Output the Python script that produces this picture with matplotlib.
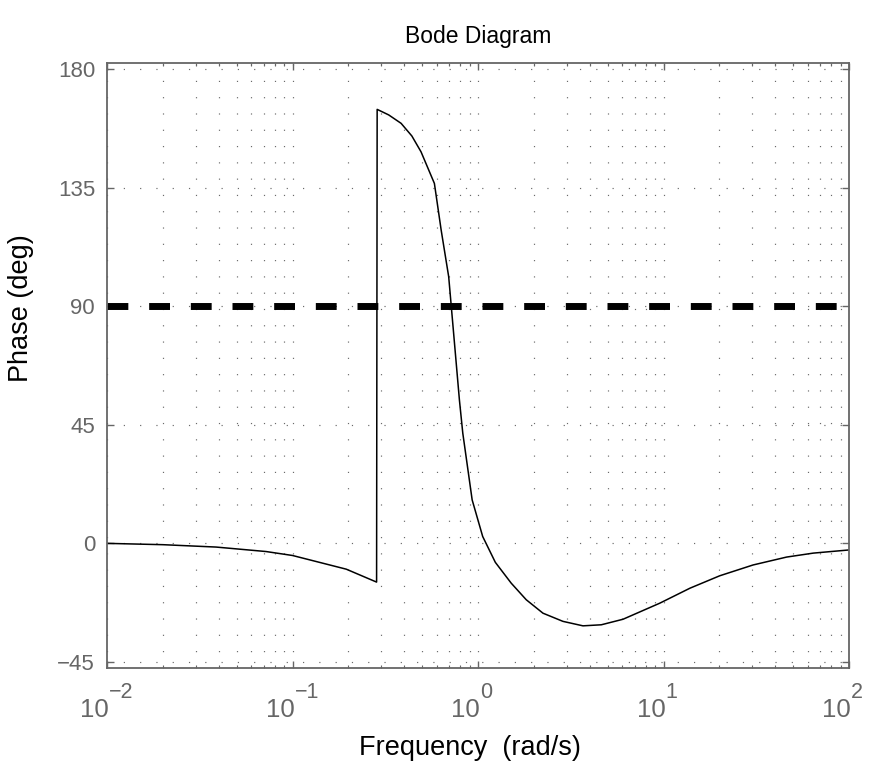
import matplotlib
matplotlib.use("Agg")
import matplotlib.pyplot as plt
from matplotlib.ticker import FixedLocator, NullFormatter, LogLocator

plt.rcParams['font.family'] = ['Liberation Sans', 'DejaVu Sans']

# ---- data ----
freq = [0.01, 0.02, 0.0387, 0.072, 0.1, 0.195, 0.284, 0.286, 0.33, 0.385, 0.44, 0.493, 0.582,
        0.633, 0.695, 0.731, 0.794, 0.828, 0.93, 1.06, 1.24, 1.51, 1.82, 2.24,
        2.87, 3.68, 4.62, 6.05, 9.55, 13.9, 20.1, 30.4, 46.1, 64.2, 100]
phase = [0.0, -0.5, -1.4, -3.1, -4.6, -9.8, -14.7, 164.7, 162.6, 159.4, 154.6, 148.6, 136.6,
         118.9, 101.2, 83.5, 54.4, 41.8, 16.5, 2.6, -7.2, -15.1, -21.4, -26.5,
         -29.6, -31.3, -30.9, -28.8, -22.7, -17.0, -12.3, -8.2, -5.2, -3.7, -2.5]
ref_freq = [0.01, 100]
ref_phase = [90, 90]

yticks = [-45, 0, 45, 90, 135, 180]
ytick_labels = ['\u221245', '0', '45', '90', '135', '180']
xtick_exponents = [-2, -1, 0, 1, 2]

title = 'Bode Diagram'
xlabel = 'Frequency  (rad/s)'
ylabel = 'Phase (deg)'

# ---- figure ----
fig = plt.figure(figsize=(8.71, 7.62), dpi=100)
ax = fig.add_axes([107 / 871, 94 / 762, 742 / 871, 605 / 762])
ax.set_xscale('log')
ax.set_xlim(0.01, 100)
ax.set_ylim(-47.3, 182.3)

ax.plot(freq, phase, color='black', lw=1.1)
ax.plot(ref_freq, ref_phase, color='black', lw=5, dashes=(3, 3), solid_capstyle='butt',
        dash_capstyle='butt')

grey = '#666666'
for s in ax.spines.values():
    s.set_color(grey)
    s.set_linewidth(1.3)

ax.set_yticks(yticks)
ax.set_yticklabels(ytick_labels)
ax.xaxis.set_major_locator(FixedLocator([10.0 ** e for e in xtick_exponents]))
ax.xaxis.set_minor_locator(LogLocator(base=10, subs=range(2, 10), numticks=20))
ax.xaxis.set_major_formatter(NullFormatter())
ax.xaxis.set_minor_formatter(NullFormatter())

ax.tick_params(axis='both', which='both', direction='in', top=True, right=True,
               color=grey, labelcolor=grey)
ax.tick_params(axis='both', which='major', length=5, width=1.0)
ax.tick_params(axis='both', which='minor', length=2.5, width=0.8)
ax.tick_params(axis='y', labelsize=16, pad=8.6)

grid_kw = dict(color='#6a6a6a', linewidth=0.85, linestyle=(0, (1, 12.8)))
ax.grid(True, axis='x', which='both', **grid_kw)
ax.grid(True, axis='y', which='major', **grid_kw)

# MATLAB-style x tick labels: large "10" with exponent
for e in xtick_exponents:
    x = 10.0 ** e
    ax.annotate('10', xy=(x, 0), xycoords=('data', 'axes fraction'),
                xytext=(1.5, -35.3), textcoords='offset points',
                ha='right', va='baseline', fontsize=18.5, color=grey)
    ax.annotate(str(e).replace('-', '\u2212'), xy=(x, 0), xycoords=('data', 'axes fraction'),
                xytext=(1.5, -21.5), textcoords='offset points',
                ha='left', va='baseline', fontsize=15.5, color=grey)

ax.set_title(title, fontsize=16.5, pad=14.4, color='black')
ax.set_xlabel(xlabel, fontsize=19.5, color='black')
ax.xaxis.set_label_coords(0.489, -0.111)
ax.set_ylabel(ylabel, fontsize=19.5, color='black')
ax.yaxis.set_label_coords(-0.098, 0.595)

fig.savefig('out.png', dpi=100)
